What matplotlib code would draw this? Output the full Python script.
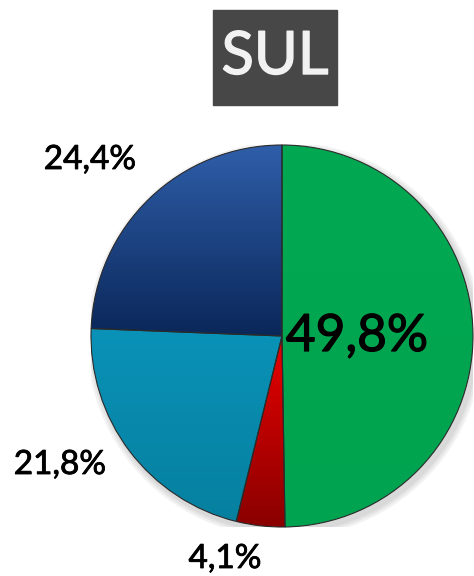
import matplotlib
matplotlib.use("Agg")
import matplotlib.pyplot as plt
import matplotlib.patheffects as pe
import numpy as np
from matplotlib.colors import LinearSegmentedColormap

plt.rcParams['font.family'] = ['Lato', 'DejaVu Sans']

title = "SUL"
values = [49.8, 4.1, 21.8, 24.4]
labels = ["49,8%", "4,1%", "21,8%", "24,4%"]
colors = ["#00A651", "#C00000", "#0A8BB0", "#163E80"]
gradients = [("#03A952", "#00A34F"), ("#E80000", "#8A0000"),
             ("#0A92B8", "#06809F"), ("#2F5EA9", "#0A2759")]

fig = plt.figure(figsize=(4.74, 5.76), dpi=100)
W, H = 474, 576
cx, cy, r = 282, 336, 191
ax = fig.add_axes([(cx - r) / W, (H - cy - r) / H, 2 * r / W, 2 * r / H])
ax.axis('off')

# soft shadow
for k in range(3):
    sh = plt.Circle((0.015, -0.02), 1.0 + 0.012 * (k + 1), color='black', alpha=0.05, zorder=0, lw=0)
    ax.add_patch(sh)

wedges, _ = ax.pie(values, colors=colors, startangle=90, counterclock=False,
                   radius=1.0, wedgeprops=dict(edgecolor='#2a2a2a', linewidth=0.8, zorder=2))

# gradient fills clipped to wedges (vertical, spanning each wedge)
for w, (c1, c2) in zip(wedges, gradients):
    t = np.radians(np.linspace(w.theta1, w.theta2, 200))
    ys = np.concatenate([[w.center[1]], w.center[1] + w.r * np.sin(t)])
    y0, y1 = ys.min(), ys.max()
    cmap = LinearSegmentedColormap.from_list("g", [c2, c1])
    grad = np.linspace(0, 1, 256).reshape(-1, 1)
    im = ax.imshow(grad, cmap=cmap, extent=[-1, 1, y0, y1], origin='lower',
                   aspect='auto', zorder=3)
    im.set_clip_path(w)
    w.set_zorder(4)
    w.set_facecolor('none')

ax.set_xlim(-1, 1)
ax.set_ylim(-1, 1)

def to_data(px, py):
    return (px - cx) / r, (cy - py) / r

pos = [(357, 337), (225, 559), (60, 465), (90, 160)]
sizes = [37, 24, 24, 24]
strokes = [0.9, 0.6, 0.6, 0.6]
for lab, (px, py), s, sw in zip(labels, pos, sizes, strokes):
    x, y = to_data(px, py)
    ax.text(x, y, lab, ha='center', va='center', fontsize=s, color='black',
            clip_on=False, zorder=10,
            path_effects=[pe.withStroke(linewidth=sw, foreground='black')])

# title box
fig.patches.append(plt.Rectangle((213 / W, 1 - 105 / H), 124 / W, 95 / H,
                                 transform=fig.transFigure, color='#474747', zorder=1))
fig.text(275 / W, 1 - 57 / H, title, ha='center', va='center', fontsize=43,
         color='#F2F2F2', zorder=5,
         path_effects=[pe.withStroke(linewidth=1.0, foreground='#F2F2F2')])

fig.savefig("out.png", dpi=100)
